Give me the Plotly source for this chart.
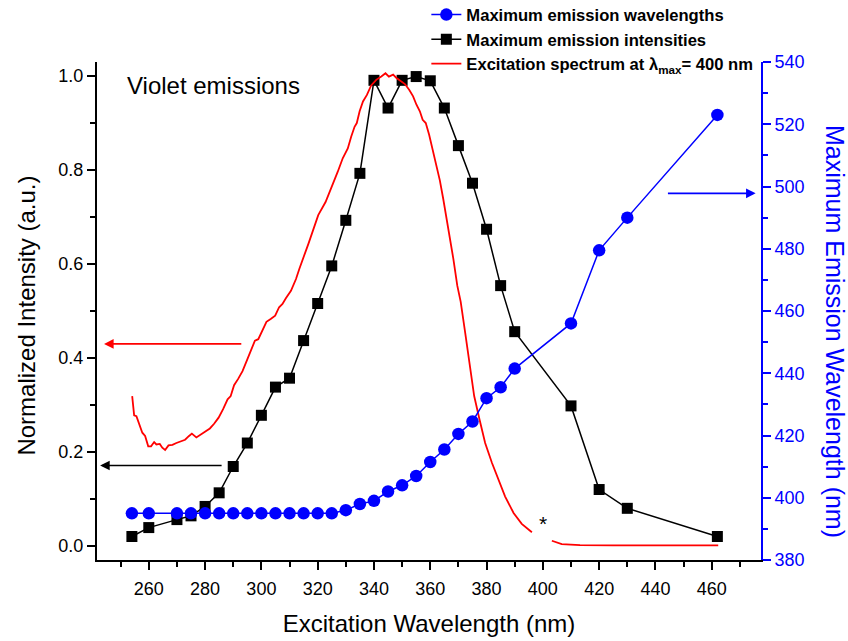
import plotly.graph_objects as go

# ---------------- data ----------------
exc_wl = [254, 260, 270, 275, 280, 285, 290, 295, 300, 305, 310, 315, 320, 325,
          330, 335, 340, 345, 350, 355, 360, 365, 370, 375, 380, 385, 390,
          410, 420, 430, 462]
max_intensity = [0.020, 0.039, 0.056, 0.064, 0.084, 0.113, 0.169, 0.219, 0.278,
                 0.338, 0.357, 0.437, 0.516, 0.596, 0.693, 0.793, 0.991, 0.932,
                 0.991, 0.999, 0.990, 0.932, 0.852, 0.772, 0.674, 0.554, 0.456,
                 0.298, 0.120, 0.080, 0.020]
max_wavelength = [395, 395, 395, 395, 395, 395, 395, 395, 395, 395, 395, 395, 395, 395,
                  396, 398, 399, 402, 404, 407, 411.5, 415.5, 420.5, 424.5, 432, 435.5, 441.5,
                  456, 479.5, 490, 523]

exc_spec_x = [254.1, 254.8, 255.6, 256.5, 257.7, 258.7, 259.8, 260.8, 261.9, 262.7,
              263.9, 264.8, 265.8, 267.0, 268.4, 269.8, 271.4, 272.9, 274.3, 275.3,
              276.9, 278.5, 280.0, 281.7, 283.2, 284.8, 286.4, 288.0, 289.1, 290.3,
              291.8, 293.3, 295.0, 296.6, 297.7, 298.9, 300.3, 301.8, 303.3, 304.9,
              306.3, 307.5, 308.7, 310.5, 312.3, 313.5, 316.7, 320.2, 322.8, 325.3,
              327.1, 328.9, 330.7, 331.9, 333.1, 333.9, 334.9, 336.1, 337.5, 339.0,
              340.8, 342.6, 344.1, 345.3, 346.8, 348.0, 349.4, 351.0, 352.5, 353.9,
              355.1, 356.3, 357.3, 358.4, 359.6, 360.8, 362.0, 362.8, 363.4, 364.6,
              365.6, 366.8, 368.2, 369.6, 370.8, 372.4, 374.0, 375.6, 377.5, 379.5,
              381.9, 384.3, 386.6, 389.6, 392.5, 396.1, None,
              403.2, 406.7, 413.2, 425.0, 462.3]
exc_spec_y = [0.319, 0.278, 0.276, 0.259, 0.241, 0.234, 0.212, 0.212, 0.221, 0.216,
              0.217, 0.209, 0.204, 0.214, 0.215, 0.219, 0.222, 0.226, 0.234, 0.239,
              0.231, 0.237, 0.244, 0.250, 0.260, 0.273, 0.291, 0.312, 0.319, 0.342,
              0.356, 0.372, 0.397, 0.419, 0.437, 0.440, 0.458, 0.477, 0.483, 0.490,
              0.508, 0.515, 0.527, 0.543, 0.568, 0.590, 0.643, 0.704, 0.732, 0.768,
              0.796, 0.825, 0.846, 0.871, 0.892, 0.900, 0.925, 0.946, 0.960, 0.980,
              0.992, 0.999, 1.006, 0.999, 1.003, 0.996, 0.990, 0.983, 0.971, 0.957,
              0.939, 0.925, 0.907, 0.900, 0.875, 0.846, 0.818, 0.793, 0.778, 0.739,
              0.704, 0.668, 0.611, 0.554, 0.520, 0.454, 0.383, 0.319, 0.269, 0.219,
              0.177, 0.141, 0.105, 0.070, 0.047, 0.029, None,
              0.011, 0.004, 0.0015, 0.001, 0.001]

x_tickvals = [260, 280, 300, 320, 340, 360, 380, 400, 420, 440, 460]
y_tickvals = [0.0, 0.2, 0.4, 0.6, 0.8, 1.0]
y_ticktext = ["0.0", "0.2", "0.4", "0.6", "0.8", "1.0"]
y2_tickvals = [380, 400, 420, 440, 460, 480, 500, 520, 540]

FONT = "Liberation Sans, Arial, sans-serif"
BLUE = "#0000FF"
RED = "#FF0000"

fig = go.Figure()

fig.add_trace(go.Scatter(
    x=exc_wl, y=max_wavelength, yaxis="y2", mode="lines+markers",
    name="Maximum emission wavelengths",
    line=dict(color=BLUE, width=1.5),
    marker=dict(symbol="circle", size=12.5, color=BLUE),
))
fig.add_trace(go.Scatter(
    x=exc_wl, y=max_intensity, mode="lines+markers",
    name="Maximum emission intensities",
    line=dict(color="black", width=1.5),
    marker=dict(symbol="square", size=11, color="black"),
))
fig.add_trace(go.Scatter(
    x=exc_spec_x, y=exc_spec_y, mode="lines",
    name="Excitation spectrum at λ<sub>max</sub>= 400 nm",
    line=dict(color=RED, width=1.8),
    connectgaps=False,
))

annotations = [
    dict(x=0.042, y=0.952, xref="paper", yref="paper", xanchor="left", yanchor="middle",
         text="Violet emissions", showarrow=False,
         font=dict(family=FONT, size=24, color="black")),
    dict(x=400, y=0.048, xref="x", yref="y", text="*", showarrow=False,
         font=dict(family=FONT, size=21, color="black")),
    # axis titles for the two y axes
    dict(x=-0.106, y=0.49, xref="paper", yref="paper", xanchor="center", yanchor="middle",
         text="Normalized Intensity (a.u.)", textangle=-90, showarrow=False,
         font=dict(family=FONT, size=24, color="black")),
    dict(x=1.1114, y=0.458, xref="paper", yref="paper", xanchor="center", yanchor="middle",
         text="Maximum Emission Wavelength (nm)", textangle=90, showarrow=False,
         font=dict(family=FONT, size=25, color=BLUE)),
    # red arrow -> left axis
    dict(x=244.1, y=0.43, xref="x", yref="y", ax=293.4, ay=0.43, axref="x", ayref="y",
         text="", showarrow=True, arrowhead=2, arrowsize=1.2, arrowwidth=1.6,
         arrowcolor=RED, standoff=0),
    # black arrow -> left axis
    dict(x=242.7, y=0.171, xref="x", yref="y", ax=286.4, ay=0.171, axref="x", ayref="y",
         text="", showarrow=True, arrowhead=2, arrowsize=1.2, arrowwidth=1.6,
         arrowcolor="black", standoff=0),
    # blue arrow -> right axis
    dict(x=475.6, y=497.8, xref="x", yref="y2", ax=443.9, ay=497.8, axref="x", ayref="y2",
         text="", showarrow=True, arrowhead=2, arrowsize=1.2, arrowwidth=1.6,
         arrowcolor=BLUE, standoff=0),
]

fig.update_layout(
    width=848, height=641,
    margin=dict(l=97, r=87, t=62, b=81, autoexpand=False),
    paper_bgcolor="white", plot_bgcolor="white",
    font=dict(family=FONT, size=18, color="black"),
    showlegend=True,
    legend=dict(x=0.496, y=1.13, xanchor="left", yanchor="top",
                bgcolor="rgba(0,0,0,0)", borderwidth=0,
                font=dict(family=FONT, size=16.6, color="black", weight="bold"),
                traceorder="normal"),
    annotations=annotations,
    xaxis=dict(
        range=[241.6, 477.5], showgrid=False, zeroline=False,
        showline=True, linecolor="black", linewidth=2, mirror=False,
        ticks="outside", ticklen=8, tickwidth=2, tickcolor="black",
        tickvals=x_tickvals, tickfont=dict(family=FONT, size=18, color="black"),
        ticklabelstandoff=3,
        minor=dict(dtick=10, tick0=250, ticks="outside", ticklen=5, tickwidth=2,
                   tickcolor="black", showgrid=False),
        title=dict(text="Excitation Wavelength (nm)", standoff=18,
                   font=dict(family=FONT, size=24, color="black")),
        automargin=False,
    ),
    yaxis=dict(
        range=[-0.03, 1.03], showgrid=False, zeroline=False,
        showline=True, linecolor="black", linewidth=2,
        ticks="outside", ticklen=8, tickwidth=2, tickcolor="black",
        tickvals=y_tickvals, ticktext=y_ticktext,
        tickfont=dict(family=FONT, size=18, color="black"),
        minor=dict(dtick=0.1, tick0=0, ticks="outside", ticklen=5, tickwidth=2,
                   tickcolor="black", showgrid=False),
        automargin=False,
    ),
    yaxis2=dict(
        range=[380, 540], overlaying="y", side="right", anchor="x",
        showgrid=False, zeroline=False,
        showline=True, linecolor=BLUE, linewidth=2,
        ticks="outside", ticklen=8, tickwidth=2, tickcolor=BLUE,
        tickvals=y2_tickvals, tickfont=dict(family=FONT, size=18, color=BLUE),
        minor=dict(dtick=10, tick0=380, ticks="outside", ticklen=5, tickwidth=2,
                   tickcolor=BLUE, showgrid=False),
        automargin=False,
    ),
)

fig.write_html("out.html")
